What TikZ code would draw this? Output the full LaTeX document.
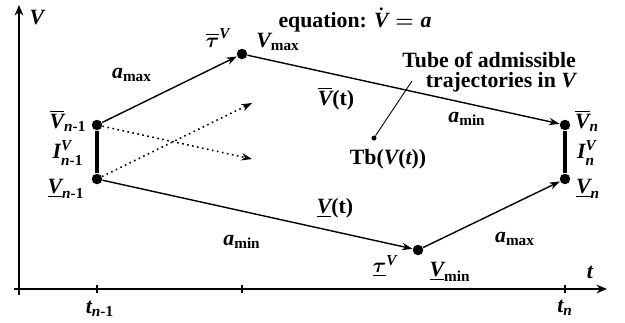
\documentclass[tikz,border=0pt]{standalone}
\usepackage{amsmath}
\usepackage{fontspec}
\setmainfont{Liberation Serif}
\usepackage{tikz}
\usetikzlibrary{arrows.meta}

\newcommand{\Vup}{\overline{\mathit{V}}}
\newcommand{\Vlo}{\underline{\mathit{V}}}

\begin{document}
\begin{tikzpicture}[x=0.02cm, y=-0.02cm, >={Stealth[length=6pt, width=4.2pt]},
  font=\fontsize{12.4}{11.5}\selectfont\bfseries\boldmath,
  dot/.style={circle, fill=black, inner sep=0pt, minimum size=0.21cm},
  smalldot/.style={circle, fill=black, inner sep=0pt, minimum size=0.1cm},
  traj/.style={->, line width=0.8pt},
  tube/.style={line width=1.9pt},
  guess/.style={->, dotted, line width=0.9pt},
  axis/.style={-{Stealth[length=6pt, width=5pt]}, line width=0.8pt},
  tick/.style={line width=0.8pt},
  lbl/.style={inner sep=1pt}
]
\useasboundingbox (0,0) rectangle (625,322);

%% ---- Axes ----
\coordinate (vbot) at (19,295);
\coordinate (vtop) at (19,5);
\coordinate (hleft) at (14,289);
\coordinate (hright) at (607,289);
\draw[axis] (vbot) -- (vtop);
\draw[axis] (hleft) -- (hright);
\foreach \tx in {97,242,565}
  \draw[tick] (\tx,285) -- (\tx,293);
\node[lbl] (vaxis) at (37,18) {$\mathit{V}$};
\node[lbl] (taxis) at (590,272) {$\mathit{t}$};
\node[lbl] (tprev) at (100,309) {$\mathit{t}_{\mathit{n}\text{-1}}$};
\node[lbl] (tnext) at (565,308) {$\mathit{t}_{\mathit{n}}$};

%% ---- Points of the tube ----
\node[dot] (upprev) at (97,125) {};
\node[dot] (loprev) at (97,179) {};
\node[dot] (vmax)   at (242,54) {};
\node[dot] (vmin)   at (418,250) {};
\node[dot] (upnext) at (565,125) {};
\node[dot] (lonext) at (565,179) {};
\node[smalldot] (tbdot) at (374,138) {};

%% ---- Interval segments ----
\draw[tube] (upprev) -- (loprev);
\draw[tube] (upnext) -- (lonext);

%% ---- Bounding trajectories ----
\draw[traj] (upprev) -- (vmax);
\draw[traj] (vmax) -- (upnext);
\draw[traj] (loprev) -- (vmin);
\draw[traj] (vmin) -- (lonext);

%% ---- Dotted crossing arrows ----
\coordinate (crossup) at (252,103);
\coordinate (crossdn) at (252,159);
\draw[guess] (loprev) -- (crossup);
\draw[guess] (upprev) -- (crossdn);

%% ---- Left and right interval labels ----
\node[lbl] (lupprev) at (68,121) {$\Vup_{\mathit{n}\text{-1}}$};
\node[lbl] (liprev)  at (68,153) {$\mathit{I}^{\mathit{V}}_{\mathit{n}\text{-1}}$};
\node[lbl] (lloprev) at (66,189) {$\Vlo_{\mathit{n}\text{-1}}$};
\node[lbl] (lupnext) at (587,121) {$\Vup_{\mathit{n}}$};
\node[lbl] (linext)  at (587,153) {$\mathit{I}^{\mathit{V}}_{\mathit{n}}$};
\node[lbl] (llonext) at (588,189) {$\Vlo_{\mathit{n}}$};

%% ---- Upper trajectory labels ----
\node[lbl] (amaxup) at (132,75) {$\mathit{a}_{\text{max}}$};
\node[lbl] (tauup)  at (218,38) {$\overline{\tau}^{\mathit{V}}$};
\node[lbl] (lvmax)  at (278,42) {$\mathit{V}_{\text{max}}$};
\node[lbl] (eqn)    at (355,20) {equation: $\dot{\mathit{V}} = \mathit{a}$};
\node[lbl] (vupt)   at (336,99) {$\Vup$(t)};
\node[lbl] (aminup) at (467,119) {$\mathit{a}_{\text{min}}$};

%% ---- Tube note ----
\node[lbl, align=right, anchor=east] (tubenote) at (578,72)
  {Tube of admissible\\trajectories in $\mathit{V}$};
\coordinate (leadend) at (412,81);
\draw[line width=0.5pt] (tbdot) -- (leadend);
\node[lbl] (tbname) at (388,159) {Tb($\mathit{V}$($\mathit{t}$))};

%% ---- Lower trajectory labels ----
\node[lbl] (vlot)    at (335,208) {$\Vlo$(t)};
\node[lbl] (amindn)  at (242,242) {$\mathit{a}_{\text{min}}$};
\node[lbl] (taudn)   at (385,266) {$\underline{\tau}^{\mathit{V}}$};
\node[lbl] (lvmin)   at (450,272) {$\Vlo_{\text{min}}$};
\node[lbl] (amaxdn)  at (515,239) {$\mathit{a}_{\text{max}}$};

\end{tikzpicture}
\end{document}
